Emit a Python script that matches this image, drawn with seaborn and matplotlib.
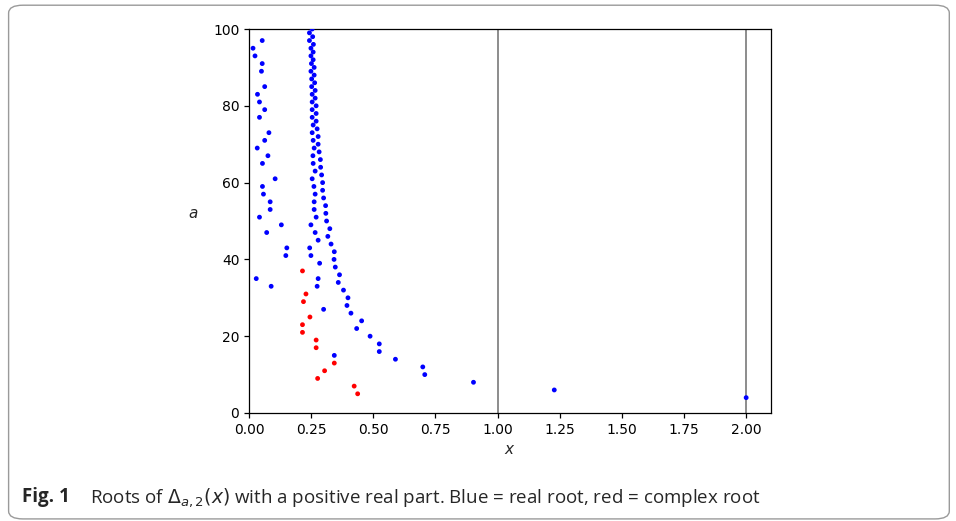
import pandas as pd
import seaborn as sns
import matplotlib.pyplot as plt
from matplotlib.patches import FancyBboxPatch

# racines réelles, a pair (colonne principale qui descend vers x = 2)
a_pair = [100, 98, 96, 94, 92, 90, 88, 86, 84, 82, 80, 78, 76, 74, 72, 70, 68, 66,
          64, 62, 60, 58, 56, 54, 52, 50, 48, 46, 44, 42, 40, 38, 36, 34, 32, 30,
          28, 26, 24, 22, 20, 18, 16, 14, 12, 10, 8, 6, 4]
x_pair = [0.254, 0.256, 0.259, 0.258, 0.258, 0.262, 0.262, 0.264, 0.266, 0.266,
          0.270, 0.270, 0.270, 0.274, 0.278, 0.278, 0.282, 0.287, 0.288, 0.292,
          0.296, 0.296, 0.300, 0.308, 0.309, 0.312, 0.325, 0.317, 0.330, 0.343,
          0.342, 0.347, 0.364, 0.359, 0.380, 0.398, 0.394, 0.410, 0.453, 0.433,
          0.487, 0.524, 0.524, 0.589, 0.699, 0.707, 0.903, 1.228, 2.000]

# racines réelles, a impair, près de x = 0.25
a_impair = [99, 97, 95, 93, 91, 89, 87, 85, 83, 81, 79, 77, 75, 73, 71, 69, 67, 65,
            63, 61, 59, 57, 55, 53, 51, 49, 47, 45, 43, 41, 39, 35, 33, 27, 15]
x_impair = [0.243, 0.243, 0.249, 0.249, 0.251, 0.249, 0.252, 0.252, 0.254, 0.254,
            0.254, 0.254, 0.258, 0.254, 0.258, 0.262, 0.257, 0.258, 0.266, 0.254,
            0.261, 0.266, 0.262, 0.262, 0.270, 0.249, 0.266, 0.278, 0.244, 0.249,
            0.284, 0.278, 0.274, 0.300, 0.343]

# racines réelles, a impair, petites valeurs de x
a_gauche = [97, 95, 93, 91, 89, 85, 83, 81, 79, 77, 73, 71, 69, 67, 65, 61, 59, 57,
            55, 53, 51, 49, 47, 43, 41, 35, 33]
x_gauche = [0.053, 0.016, 0.024, 0.053, 0.050, 0.063, 0.034, 0.042, 0.063, 0.042,
            0.080, 0.063, 0.033, 0.076, 0.054, 0.105, 0.054, 0.058, 0.085, 0.085,
            0.042, 0.130, 0.071, 0.152, 0.148, 0.029, 0.089]

# racines complexes (partie réelle)
a_complexe = [37, 31, 29, 25, 23, 21, 19, 17, 13, 11, 9, 7, 5]
x_complexe = [0.215, 0.229, 0.219, 0.245, 0.215, 0.215, 0.270, 0.270, 0.343,
              0.304, 0.276, 0.423, 0.437]


def main():
    df = pd.concat([
        pd.DataFrame({"x": x_pair, "a": a_pair, "type": "reel"}),
        pd.DataFrame({"x": x_impair, "a": a_impair, "type": "reel"}),
        pd.DataFrame({"x": x_gauche, "a": a_gauche, "type": "reel"}),
        pd.DataFrame({"x": x_complexe, "a": a_complexe, "type": "complexe"}),
    ], ignore_index=True)

    sns.set_style("ticks")
    plt.rcParams["font.family"] = ["DejaVu Sans"]

    fig = plt.figure(figsize=(9.56, 5.21), dpi=100)
    ax = fig.add_axes([0.2605, 0.2073, 0.546, 0.737])

    ax.axvline(1.0, color="#8c8c8c", lw=1.4, zorder=0)
    ax.axvline(2.0, color="#8c8c8c", lw=1.4, zorder=0)

    sns.scatterplot(data=df, x="x", y="a", hue="type",
                    palette={"reel": "blue", "complexe": "red"},
                    s=12, linewidth=0, legend=False, ax=ax, zorder=3)

    ax.set_xlim(0, 2.1)
    ax.set_ylim(0, 100)
    ax.set_xticks([0, 0.25, 0.5, 0.75, 1.0, 1.25, 1.5, 1.75, 2.0])
    ax.set_xticklabels(["0.00", "0.25", "0.50", "0.75", "1.00", "1.25", "1.50", "1.75", "2.00"])
    ax.set_yticks([0, 20, 40, 60, 80, 100])
    ax.set_xlabel("$x$", fontsize=11)
    ax.set_ylabel("$a$", fontsize=11, rotation=0, labelpad=14)
    for s in ax.spines.values():
        s.set_color("black")
        s.set_linewidth(0.9)
    ax.tick_params(colors="black", labelsize=10, length=3.5, width=0.9)

    # cadre arrondi de la figure (style revue)
    cadre = FancyBboxPatch((0.009, 0.004), 0.984, 0.986,
                           boxstyle="round,pad=0,rounding_size=0.015",
                           transform=fig.transFigure, fill=False,
                           ec="#9a9a9a", lw=1.0)
    fig.patches.append(cadre)

    fig.text(0.023, 0.036, "Fig. 1", fontsize=13.5, fontweight="bold",
             family="Open Sans", va="baseline")
    fig.text(0.094, 0.036,
             r"Roots of $\Delta_{a,2}(x)$ with a positive real part. Blue = real root, red = complex root",
             fontsize=13.5, family="Open Sans", va="baseline")

    fig.savefig("out.png", dpi=100)


if __name__ == "__main__":
    main()
